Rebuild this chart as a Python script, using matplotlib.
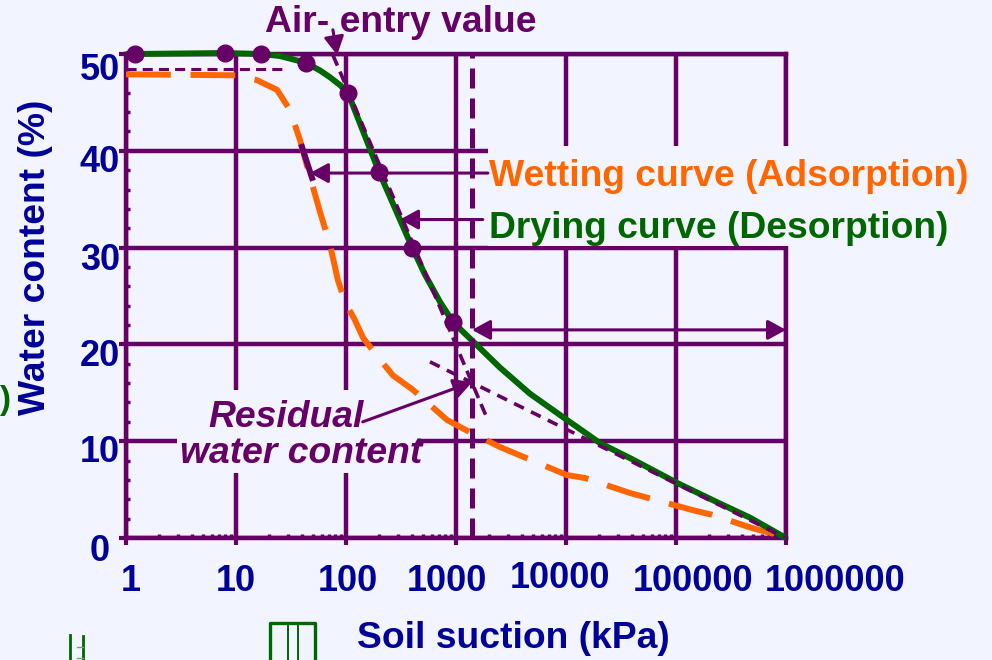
import matplotlib
matplotlib.use("Agg")
import matplotlib.pyplot as plt
import matplotlib.transforms as mtrans
from matplotlib.patches import Rectangle
from matplotlib.lines import Line2D
from matplotlib.ticker import MultipleLocator, LogLocator

plt.rcParams['font.family'] = ['Liberation Sans', 'DejaVu Sans']
plt.rcParams['font.weight'] = 'bold'

BG = '#F2F5FF'
PURPLE = '#660066'
NAVY = '#000099'
ORANGE = '#FF6600'
GREEN = '#006600'

# drying curve (desorption): suction in kPa, water content in %
dry_suction = [1, 1.2, 8, 17, 25, 43, 58, 71.5, 88, 104, 122, 200, 400, 523, 715,
               940, 1400, 2512, 4710, 10200, 20400, 40600, 102000, 236000,
               471000, 1000000]
dry_water = [50.0, 50.0, 50.1, 50.0, 49.8, 49.1, 48.3, 47.6, 46.8, 46.0, 44.0,
             37.8, 30.0, 27.2, 24.4, 22.3, 20.4, 17.6, 14.9, 12.2, 9.8, 8.1,
             5.7, 3.7, 2.1, 0.0]

# measured points on the drying curve
pt_suction = [1.2, 8, 17, 43, 104, 200, 400, 940]
pt_water = [50.0, 50.1, 50.0, 49.1, 46.0, 37.8, 30.0, 22.3]

# wetting curve (adsorption)
wet_suction = [1, 10, 15.5, 23.6, 31, 38.2, 47.1, 58, 71.5, 84.6, 97.9, 120.7,
               142.7, 195, 267, 407, 828, 1207, 2512, 10210, 14880, 38180,
               139800, 212500, 501200, 1000000]
wet_water = [47.9, 47.8, 47.3, 46.3, 44.2, 41.1, 37.3, 33.7, 30.3, 26.6, 24.4,
             22.5, 20.7, 18.7, 16.8, 15.3, 12.2, 11.2, 9.4, 6.5, 6.2, 4.65,
             2.9, 2.4, 1.0, 0.1]

# construction lines
sat_suction = [1, 26.7]
sat_water = [48.4, 48.4]
steep_suction = [76, 1910]
steep_water = [49.9, 12.4]
resid_suction = [580, 1000000]
resid_water = [18.2, 0.0]
residual_suction = 1400
elbow_suction = [39.8, 49.1]
elbow_water = [40.4, 37.2]

x_ticks = [1, 10, 100, 1000, 10000, 100000, 1000000]
x_tick_labels = ['1', '10', '100', '1000', '10000', '100000', '1000000']
y_ticks = [0, 10, 20, 30, 40, 50]
y_tick_labels = ['0', '10', '20', '30', '40', '50']

# label nudges in pixels
x_label_dx = [5, 0, 2, -9, -6, 17, 49]
x_label_dy = [-53, -53, -53, -53, -50, -53, -53]
y_label_dy = [-23, -21, -22, -22, -21, -26]

W, H = 992, 660
FS = 26.8


def px(x, y):
    return x / W, 1 - y / H


fig = plt.figure(figsize=(W / 100, H / 100), dpi=100)
fig.patch.set_facecolor(BG)
ax = fig.add_axes([126 / W, 122 / H, 660 / W, 484 / H])
ax.set_facecolor(BG)
ax.set_xscale('log')
ax.set_xlim(1, 1e6)
ax.set_ylim(0, 50)

ax.set_xticks(x_ticks)
ax.set_yticks(y_ticks)
ax.xaxis.set_minor_locator(LogLocator(base=10, subs=range(2, 10)))
ax.yaxis.set_minor_locator(MultipleLocator(2))
ax.tick_params(which='major', length=5, width=3, color=PURPLE, direction='out',
               labelbottom=False, labelleft=False)
ax.tick_params(which='minor', length=3, width=2.5, color=PURPLE, direction='in')
ax.grid(True, which='major', color=PURPLE, lw=3.2)
ax.set_axisbelow(True)
for s in ax.spines.values():
    s.set_color(PURPLE)
    s.set_linewidth(3.2)

# tick labels
xt = mtrans.blended_transform_factory(ax.transData, ax.transAxes)
for v, lab, dx, dy in zip(x_ticks, x_tick_labels, x_label_dx, x_label_dy):
    ax.text(v, 0, lab, transform=mtrans.offset_copy(xt, fig=fig, x=dx, y=dy, units='dots'),
            ha='center', va='baseline', fontsize=26, color=NAVY)
yt = mtrans.blended_transform_factory(ax.transAxes, ax.transData)
for v, lab, dy in zip(y_ticks, y_tick_labels, y_label_dy):
    ax.text(0, v, lab, transform=mtrans.offset_copy(yt, fig=fig, x=-26, y=dy, units='dots'),
            ha='center', va='baseline', fontsize=26, color=NAVY)

# blank panels behind the annotations
ax.add_patch(Rectangle((0.5485, 0.6033), 0.74, 0.2066, transform=ax.transAxes,
                       facecolor=BG, edgecolor='none', zorder=3, clip_on=False))
ax.add_patch(Rectangle((0.0773, 0.1343), 0.3651, 0.1715, transform=ax.transAxes,
                       facecolor=BG, edgecolor='none', zorder=3, clip_on=False))

# curves
ax.plot(wet_suction, wet_water, color=ORANGE, lw=4.3, dashes=(7.5, 3.3), zorder=4)
ax.plot(dry_suction, dry_water, color=GREEN, lw=4.3, zorder=4.2, clip_on=False,
        solid_capstyle='butt', solid_joinstyle='round')
ax.plot(elbow_suction, elbow_water, color=PURPLE, lw=4.3, zorder=4.3)
ax.plot(sat_suction, sat_water, color=PURPLE, lw=2.2, dashes=(3.3, 2.0), zorder=4.5)
ax.plot(steep_suction, steep_water, color=PURPLE, lw=2.6, dashes=(3.2, 1.8), zorder=4.5)
ax.plot(resid_suction, resid_water, color=PURPLE, lw=2.6, dashes=(3.0, 2.2), zorder=4.5)
ax.axvline(residual_suction, color=PURPLE, lw=3.6, dashes=(4, 2), zorder=4.6)
ax.plot(pt_suction, pt_water, 'o', color=PURPLE, ms=12, zorder=5, clip_on=False)

# arrows
arrow = dict(arrowstyle='-|>,head_length=0.55,head_width=0.3', mutation_scale=20,
             lw=2.2, color=PURPLE, shrinkA=0, shrinkB=0)
ax.annotate('', xy=(83, 49.9), xytext=(76, 52.5), arrowprops=arrow,
            annotation_clip=False, zorder=6)
ax.annotate('', xy=(47, 37.7), xytext=(1950, 37.7), arrowprops=arrow, zorder=6)
ax.annotate('', xy=(310, 32.9), xytext=(1750, 32.9), arrowprops=arrow, zorder=6)
ax.annotate('', xy=(1400, 16.1), xytext=(142, 12.0), arrowprops=arrow, zorder=6)
both = dict(arrow, arrowstyle='<|-|>,head_length=0.55,head_width=0.3')
ax.annotate('', xy=(1e6, 21.5), xytext=(1400, 21.5), arrowprops=both,
            annotation_clip=False, zorder=6)

# annotation text
fig.text(*px(401, 32), 'Air- entry value', ha='center', va='baseline',
         fontsize=FS, color=PURPLE)
fig.text(*px(489, 186), 'Wetting curve (Adsorption)', ha='left', va='baseline',
         fontsize=FS, color=ORANGE, zorder=7)
fig.text(*px(489, 238), 'Drying curve (Desorption)', ha='left', va='baseline',
         fontsize=FS, color=GREEN, zorder=7)
fig.text(*px(286, 427), 'Residual', ha='center', va='baseline', fontsize=FS,
         style='italic', color=PURPLE, zorder=7)
fig.text(*px(301, 463), 'water content', ha='center', va='baseline', fontsize=FS,
         style='italic', color=PURPLE, zorder=7)

# axis titles
fig.text(*px(513, 648), 'Soil suction (kPa)', ha='center', va='baseline',
         fontsize=FS, color=NAVY)
fig.text(*px(45, 257), 'Water content (%)', ha='center', va='baseline',
         rotation=90, rotation_mode='anchor', fontsize=FS, color=NAVY)

# bits of neighbouring slide content at the edges
fig.text(*px(-1, 400), ')', ha='left', va='center', fontsize=24, color=GREEN)
edge_lines = [
    ([70, 70], [635, 660], 2.0, GREEN),
    ([83, 83], [636, 660], 2.0, GREEN),
    ([77, 83], [647, 647], 1.0, '#66AA66'),
    ([77, 83], [658, 658], 1.0, '#66AA66'),
    ([270, 270, 315, 315], [660, 623, 623, 660], 2.4, GREEN),
    ([288, 288], [623, 660], 1.4, GREEN),
    ([298, 298], [623, 660], 1.4, GREEN),
]
for xs, ys, lw, c in edge_lines:
    fig.add_artist(Line2D([x / W for x in xs], [1 - y / H for y in ys],
                          transform=fig.transFigure, lw=lw, color=c))

fig.savefig('out.png', dpi=100, facecolor=BG)
